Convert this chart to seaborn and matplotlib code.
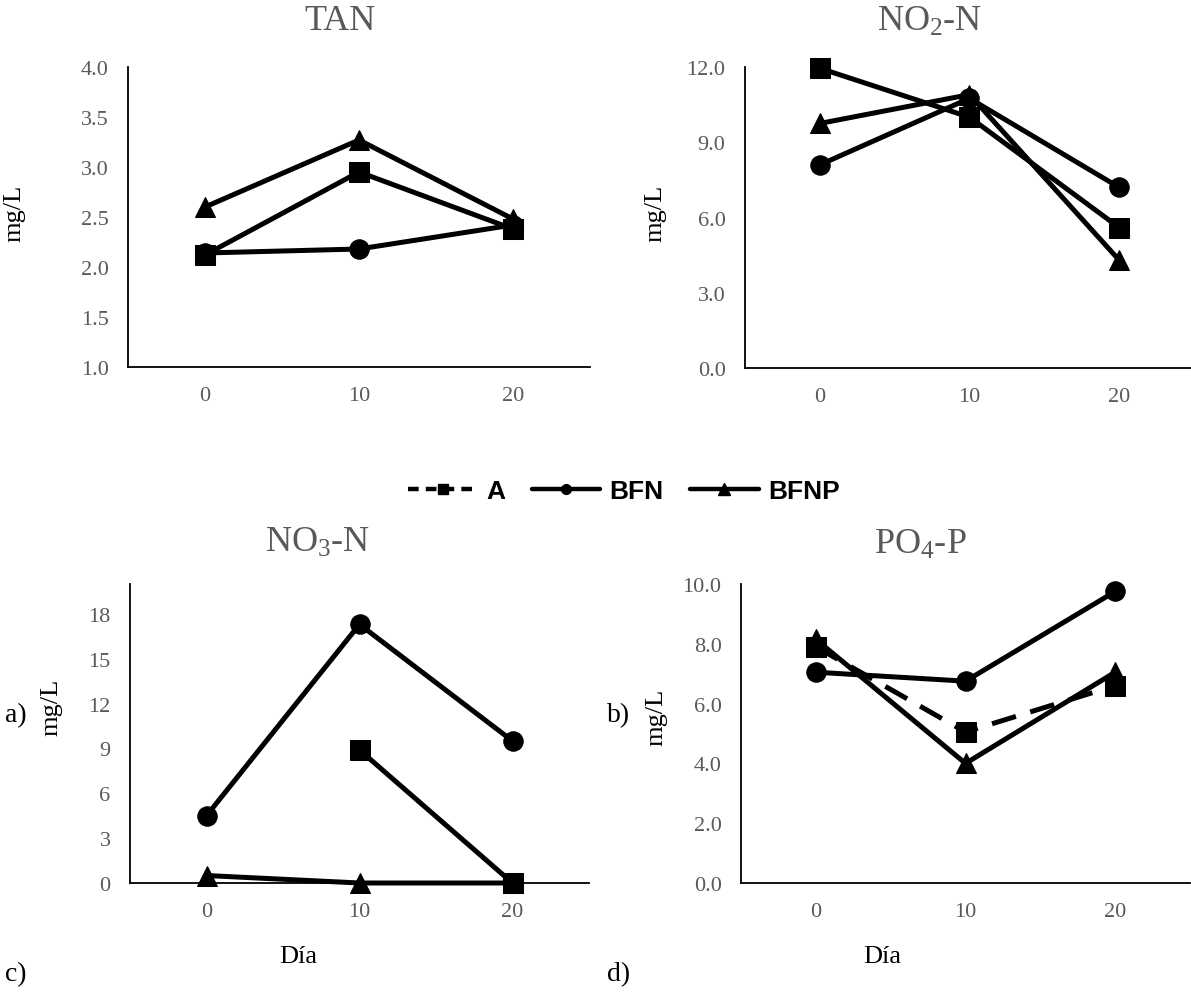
import numpy as np
import pandas as pd
import matplotlib
matplotlib.use("Agg")
import matplotlib.pyplot as plt
import seaborn as sns
from matplotlib.lines import Line2D

# Data
days = [0, 10, 20]
series_names = ["A", "BFN", "BFNP"]

tan_a = [2.12, 2.95, 2.38]
tan_bfn = [2.14, 2.18, 2.42]
tan_bfnp = [2.60, 3.27, 2.48]

no2_a = [11.95, 10.0, 5.6]
no2_bfn = [8.1, 10.75, 7.2]
no2_bfnp = [9.75, 10.9, 4.3]

no3_a = [np.nan, 8.9, 0.0]
no3_bfn = [4.5, 17.3, 9.5]
no3_bfnp = [0.5, 0.0, 0.0]

po4_a = [7.9, 5.05, 6.6]
po4_bfn = [7.05, 6.75, 9.75]
po4_bfnp = [8.15, 4.0, 7.05]

panel_titles = ["TAN", "NO$_\\mathrm{2}$-N", "NO$_\\mathrm{3}$-N", "PO$_\\mathrm{4}$-P"]
panel_letters = ["a)", "b)", "c)", "d)"]

sns.set_theme(style="white")
plt.rcParams["font.family"] = ["Liberation Serif", "DejaVu Serif"]
plt.rcParams["text.color"] = "black"
plt.rcParams["mathtext.fontset"] = "custom"
plt.rcParams["mathtext.rm"] = "Liberation Serif"
plt.rcParams["mathtext.it"] = "Liberation Serif:italic"

GRAY = "#595959"


def long_df(a, bfn, bfnp):
    rows = []
    for name, vals in zip(series_names, [a, bfn, bfnp]):
        for d, v in zip(days, vals):
            rows.append({"day": d, "value": v, "series": name})
    return pd.DataFrame(rows)


panels = [
    dict(df=long_df(tan_a, tan_bfn, tan_bfnp), ylim=(1, 4), ticks=np.arange(1, 4.01, 0.5), fmt="{:.1f}",
         rect=[128 / 1191, 1 - 368 / 995, 462 / 1191, 300 / 995], dashed=False,
         ylab=(-0.223, 0.517), title_xy=(340, 22)),
    dict(df=long_df(no2_a, no2_bfn, no2_bfnp), ylim=(0, 12), ticks=np.arange(0, 12.01, 3), fmt="{:.1f}",
         rect=[745 / 1191, 1 - 369 / 995, 449 / 1191, 301 / 995], dashed=False,
         ylab=(-0.174, 0.517), title_xy=(930, 22)),
    dict(df=long_df(no3_a, no3_bfn, no3_bfnp), ylim=(0, 20), ticks=np.arange(0, 18.1, 3), fmt="{:.0f}",
         rect=[130 / 1191, 1 - 884 / 995, 459 / 1191, 299 / 995], dashed=False,
         ylab=(-0.148, 0.592), title_xy=(318, 543)),
    dict(df=long_df(po4_a, po4_bfn, po4_bfnp), ylim=(0, 10), ticks=np.arange(0, 10.01, 2), fmt="{:.1f}",
         rect=[741 / 1191, 1 - 884 / 995, 449 / 1191, 299 / 995], dashed=True,
         ylab=(-0.165, 0.558), title_xy=(920, 545)),
]

fig = plt.figure(figsize=(11.91, 9.95), dpi=100)

markers = {"A": "s", "BFN": "o", "BFNP": "^"}
palette = {"A": "black", "BFN": "black", "BFNP": "black"}

for i, p in enumerate(panels):
    ax = fig.add_axes(p["rect"])
    dashes = {"A": (5, 3) if p["dashed"] else "", "BFN": "", "BFNP": ""}
    sns.lineplot(data=p["df"], x="day", y="value", hue="series", style="series",
                 markers=markers, dashes=dashes, palette=palette,
                 linewidth=3.6, markersize=14, markeredgecolor="black",
                 legend=False, ax=ax, hue_order=["BFNP", "BFN", "A"])
    for ln in ax.lines:
        ln.set_clip_on(False)
    ax.set_xlim(-5, 25)
    ax.set_ylim(*p["ylim"])
    ax.set_xticks(days)
    ax.set_xticklabels([str(d) for d in days])
    ax.set_yticks(p["ticks"])
    ax.set_yticklabels([p["fmt"].format(t) for t in p["ticks"]])
    ax.tick_params(axis="both", length=0, labelsize=16, colors=GRAY)
    ax.tick_params(axis="y", pad=14)
    ax.tick_params(axis="x", pad=14)
    for s in ["top", "right"]:
        ax.spines[s].set_visible(False)
    for s in ["left", "bottom"]:
        ax.spines[s].set_color("black")
        ax.spines[s].set_linewidth(1.3)
    ax.set_xlabel("")
    ax.set_ylabel("mg/L", fontsize=19, color="black")
    ax.yaxis.set_label_coords(*p["ylab"])
    tx, ty = p["title_xy"]
    fig.text(tx / 1191, 1 - ty / 995, panel_titles[i], ha="center", va="center",
             fontsize=26, color=GRAY)

# x labels on bottom panels
fig.text(298 / 1191, 1 - 957 / 995, "Día", ha="center", va="center", fontsize=19, color="black")
fig.text(882 / 1191, 1 - 957 / 995, "Día", ha="center", va="center", fontsize=19, color="black")

# panel letters
for lab, (x, y) in zip(panel_letters, [(5, 716), (607, 716), (5, 975), (607, 975)]):
    fig.text(x / 1191, 1 - y / 995, lab, ha="left", va="center", fontsize=20, color="black")

# shared legend
handles = [
    Line2D([], [], color="black", linestyle=(0, (2.4, 1.6)), linewidth=3.2, marker="s", markersize=7),
    Line2D([], [], color="black", linewidth=3.2, marker="o", markersize=7),
    Line2D([], [], color="black", linewidth=3.2, marker="^", markersize=8),
]
fig.legend(handles, series_names, loc="center", bbox_to_anchor=(624 / 1191, 1 - 492 / 995),
           ncol=3, frameon=False, handlelength=2.6, handletextpad=0.35, columnspacing=1.0,
           labelcolor="black",
           prop={"family": "Liberation Sans", "weight": "bold", "size": 19})

fig.savefig("out.png", dpi=100)
